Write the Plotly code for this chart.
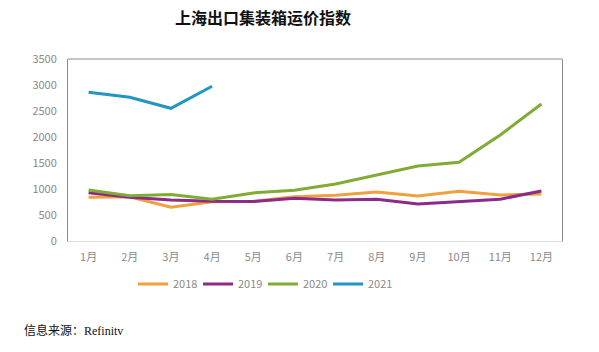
import plotly.graph_objects as go

months = ["1月", "2月", "3月", "4月", "5月", "6月", "7月", "8月", "9月", "10月", "11月", "12月"]
s2018 = [840, 850, 650, 755, 765, 850, 880, 940, 865, 955, 885, 905]
s2019 = [930, 840, 788, 763, 760, 820, 790, 805, 712, 765, 805, 962]
s2020 = [981, 870, 895, 802, 925, 975, 1095, 1270, 1442, 1513, 2038, 2635]
s2021 = [2860, 2763, 2552, 2975]
series_names = ["2018", "2019", "2020", "2021"]
colors = ["#F0A03C", "#8C2A8A", "#80AC34", "#2196C4"]
yticks = [0, 500, 1000, 1500, 2000, 2500, 3000, 3500]

fig = go.Figure()
for name, vals, c in zip(series_names, [s2018, s2019, s2020, s2021], colors):
    fig.add_trace(go.Scatter(x=months[:len(vals)], y=vals, mode="lines", name=name,
                             line=dict(color=c, width=3)))

fig.update_layout(
    width=599, height=352,
    margin=dict(l=68, r=37, t=59, b=111),
    paper_bgcolor="white", plot_bgcolor="white",
    title=dict(text="<b>上海出口集装箱运价指数</b>", x=263/599, xanchor="center",
               y=1-18/352, yanchor="middle",
               font=dict(family="Noto Sans CJK SC", size=16, color="#111")),
    font=dict(family="Noto Sans CJK SC", color="#7f7f7f", size=11),
    xaxis=dict(type="category", range=[-0.5, 11.5], showgrid=False,
               showline=True, linecolor="#d9d9d9", linewidth=1, ticks="",
               ticklabelstandoff=6,
               tickfont=dict(size=11, color="#8a8a8a")),
    yaxis=dict(range=[0, 3500], tickvals=yticks, showgrid=False, zeroline=False,
               showline=True, mirror=True, linecolor="#8c8c8c", linewidth=1,
               ticks="", ticklabelstandoff=8,
               tickfont=dict(size=11, color="#8a8a8a")),
    legend=dict(orientation="h", x=(263-68)/494, xanchor="center", y=(241-284)/182, yanchor="middle",
                font=dict(size=11, color="#8a8a8a"), itemwidth=30,
                entrywidth=20, entrywidthmode="pixels"),
    showlegend=True,
)
fig.add_shape(type="line", xref="paper", yref="paper", x0=0, x1=1, y0=1, y1=1,
              line=dict(color="#8c8c8c", width=1))
fig.add_annotation(text="信息来源：<span style='font-family:Liberation Serif'>Refinitv</span>",
                   xref="paper", yref="paper", x=(22-68)/494, y=(241-329)/182,
                   xanchor="left", yanchor="middle", showarrow=False,
                   font=dict(family="Noto Sans CJK SC", size=12, color="#111"))
fig.write_html("out.html")
